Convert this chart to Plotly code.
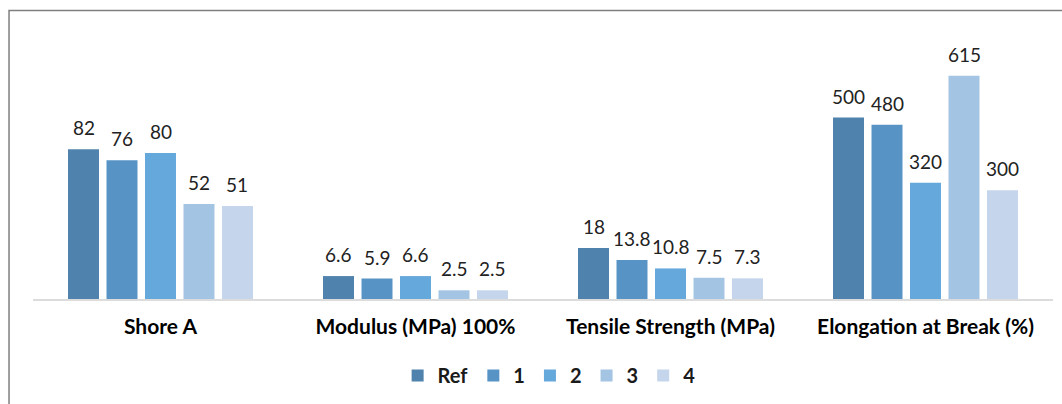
import plotly.graph_objects as go

# ---- data ----
properties = ["Shore A", "Modulus (MPa) 100%", "Tensile Strength (MPa)", "Elongation at Break (%)"]
series = ["Ref", "1", "2", "3", "4"]
shore_a = [82, 76, 80, 52, 51]
modulus_100 = [6.6, 5.9, 6.6, 2.5, 2.5]
tensile = [18, 13.8, 10.8, 7.5, 7.3]
elongation = [500, 480, 320, 615, 300]
values = [shore_a, modulus_100, tensile, elongation]

# ---- style ----
colors = ["#4f83ad", "#5794c5", "#65a8dc", "#a3c4e3", "#c5d6ec"]
y_tops = [152.9, 80.3, 98.6, 768.8]   # per-panel value axis extents
FONT = "Lato"

fig = go.Figure()
n = len(properties)
annotations = []
for p, (prop, vals) in enumerate(zip(properties, values)):
    ax = "" if p == 0 else str(p + 1)
    for s, (name, v) in enumerate(zip(series, vals)):
        fig.add_trace(go.Bar(
            x=[name], y=[v], name=name,
            marker=dict(color=colors[s], line=dict(width=0)),
            xaxis="x" + ax, yaxis="y" + ax,
            legendgroup=name, showlegend=(p == 0),
        ))
        annotations.append(dict(
            x=name, y=v, xref="x" + ax, yref="y" + ax,
            text=f"{v:g}", showarrow=False, yanchor="bottom", yshift=8,
            font=dict(family=FONT, size=19, color="#222222"),
        ))
    d0, d1 = p / n, (p + 1) / n
    fig.layout["xaxis" + ax] = dict(
        domain=[d0, d1], anchor="y" + ax, type="category",
        categoryorder="array", categoryarray=series,
        range=[-1.312, 5.312], showticklabels=False, ticks="",
        showgrid=False, zeroline=False,
        showline=True, linecolor="#dcdcdc", linewidth=2,
        title=dict(text=prop, standoff=19,
                   font=dict(family=FONT, size=21, color="#000000", weight="bold")),
        fixedrange=True,
    )
    fig.layout["yaxis" + ax] = dict(
        anchor="x" + ax, range=[0, y_tops[p]], visible=False, fixedrange=True,
    )

fig.update_layout(
    width=1062, height=404,
    margin=dict(l=33, r=9, t=20, b=103),
    paper_bgcolor="white", plot_bgcolor="white",
    barmode="overlay", bargap=0.195,
    annotations=annotations,
    showlegend=True,
    legend=dict(orientation="h", x=0.506, xanchor="center", y=-0.274, yanchor="middle",
                font=dict(family=FONT, size=20, color="#1a1a1a", weight="bold"),
                itemwidth=30, tracegroupgap=0, itemclick=False, itemdoubleclick=False),
    font=dict(family=FONT),
    shapes=[dict(type="rect", xref="paper", yref="paper",
                 x0=-0.0235, x1=1.02, y0=-0.5, y1=1.034,
                 line=dict(color="#7f7f7f", width=1.5), layer="below")],
)

fig.write_html("out.html", config={"displayModeBar": False})
